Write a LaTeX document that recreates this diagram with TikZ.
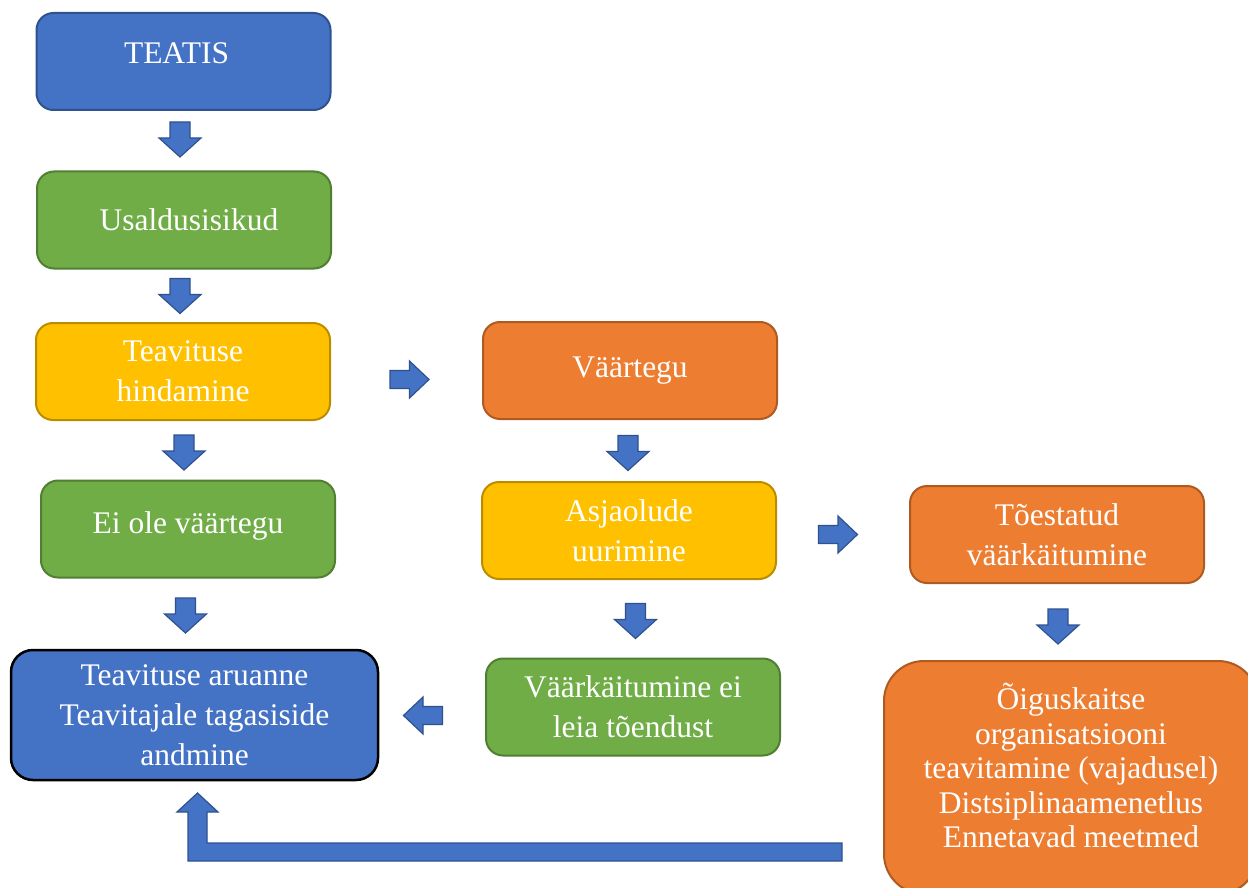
\documentclass[tikz,border=0pt]{standalone}
\usepackage{fontspec}
\setmainfont{Liberation Serif}
\definecolor{cblue}{HTML}{4472C4}
\definecolor{cblueD}{HTML}{2F528F}
\definecolor{cgreen}{HTML}{70AD47}
\definecolor{cgreenD}{HTML}{507E32}
\definecolor{cyellow}{HTML}{FFC000}
\definecolor{cyellowD}{HTML}{BC8C00}
\definecolor{corange}{HTML}{ED7D31}
\definecolor{corangeD}{HTML}{AE5A21}
\tikzset{
  box/.style={rounded corners=17pt, line width=2pt, minimum width=294pt, minimum height=97pt,
    text=white, align=center, inner sep=0pt, font=\fontsize{31.5}{40}\selectfont},
  bluebox/.style={box, fill=cblue, draw=cblueD},
  greenbox/.style={box, fill=cgreen, draw=cgreenD},
  yellowbox/.style={box, fill=cyellow, draw=cyellowD},
  orangebox/.style={box, fill=corange, draw=corangeD},
  blockarrow/.style={fill=cblue, draw=cblueD, line width=1.2pt, line join=miter},
  varrow/.pic={\draw[blockarrow] (-17.5,-10) -- (-1.5,-10) -- (-1.5,-21) -- (17.5,0) -- (-1.5,21) -- (-1.5,10) -- (-17.5,10) -- cycle;},
  harrow/.pic={\draw[blockarrow] (-19.5,-9) -- (0,-9) -- (0,-18.5) -- (19.5,0) -- (0,18.5) -- (0,9) -- (-19.5,9) -- cycle;}
}
\begin{document}
\begin{tikzpicture}[x=1pt,y=-1pt]
\useasboundingbox (0,0) rectangle (1248,888);
\fill[white] (0,0) rectangle (1248,888);
\clip (0,0) rectangle (1248,888);

% boxes
\node[bluebox, text depth=16pt] (teatis) at (183.5,61.5) {TEATIS\hspace{14pt}};
\node[greenbox] (usald) at (184,220) {\hspace{10pt}Usaldusisikud};
\node[yellowbox] (hind) at (183,371.5) {Teavituse\\hindamine};
\node[greenbox, text depth=12pt] (eiole) at (188,529) {Ei ole väärtegu};
\node[box, fill=cblue, draw=black, line width=2.5pt, rounded corners=22pt,
      minimum width=367pt, minimum height=130pt] (aruanne) at (194.5,715)
      {Teavituse aruanne\\Teavitajale tagasiside\\andmine};
\node[orangebox] (vaartegu) at (630,370.5) {Väärtegu};
\node[yellowbox] (asja) at (629,530.5) {Asjaolude\\uurimine};
\node[greenbox] (vaark) at (633,707) {Väärkäitumine ei\\leia tõendust};
\node[orangebox] (toest) at (1057,534.5) {Tõestatud\\väärkäitumine};
\node[orangebox, rounded corners=40pt, minimum width=374pt, minimum height=233pt,
      text depth=24pt, font=\fontsize{31.5}{34.5}\selectfont] (meetmed) at (1071,777.5)
      {Õiguskaitse\\organisatsiooni\\teavitamine (vajadusel)\\Distsiplinaamenetlus\\Ennetavad meetmed};

% arrow positions
\coordinate (a1) at (180,139.5);
\coordinate (a2) at (180,296);
\coordinate (a3) at (184,452.5);
\coordinate (a4) at (185.5,615.5);
\coordinate (r1) at (409.5,379.5);
\coordinate (a5) at (628,453);
\coordinate (a6) at (635.5,621);
\coordinate (r2) at (838,534.5);
\coordinate (a7) at (1058,626.5);
\coordinate (l1) at (423,715.5);

\pic[rotate=-90] at (a1) {varrow};
\pic[rotate=-90] at (a2) {varrow};
\pic[rotate=-90] at (a3) {varrow};
\pic[rotate=-90] at (a4) {varrow};
\pic[rotate=-90] at (a5) {varrow};
\pic[rotate=-90] at (a6) {varrow};
\pic[rotate=-90] at (a7) {varrow};
\pic at (r1) {harrow};
\pic at (r2) {harrow};
\pic[rotate=180] at (l1) {harrow};

% bent return arrow
\draw[blockarrow] (842,843) -- (207,843) -- (207,812) -- (218,812) -- (197.5,793)
  -- (177,812) -- (188,812) -- (188,861) -- (842,861) -- cycle;
\end{tikzpicture}
\end{document}
